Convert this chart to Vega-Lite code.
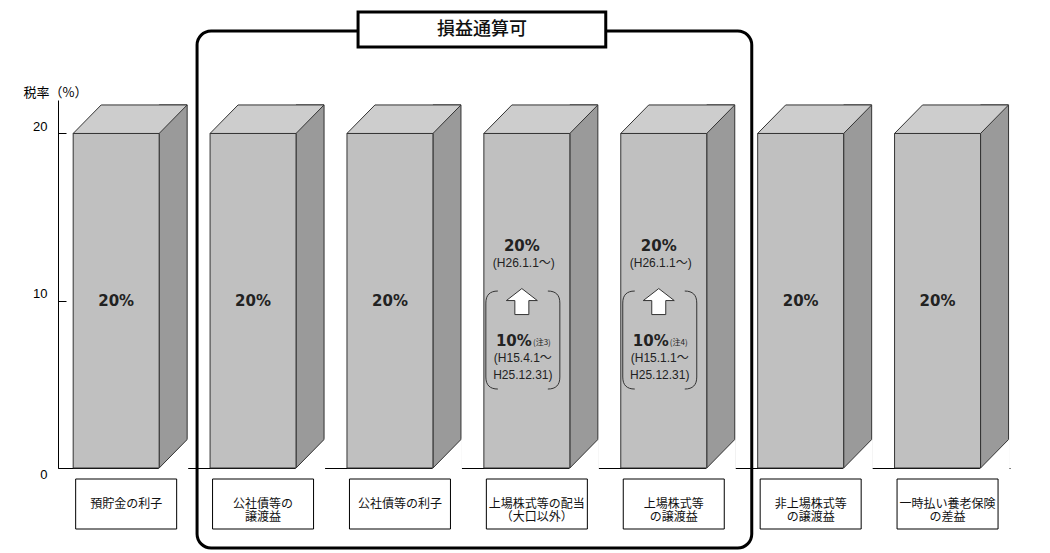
{
  "$schema": "https://vega.github.io/schema/vega-lite/v6.json",
  "width": 952,
  "height": 368,
  "autosize": {"type": "none"},
  "padding": {"left": 58, "top": 100, "right": 40, "bottom": 85},
  "background": "white",
  "config": {"view": {"stroke": null}, "font": "Liberation Sans"},
  "datasets": {
    "rates": [
      {"item": "預貯金の利子", "rate": 20, "label": "20%"},
      {"item": "公社債等の\n譲渡益", "rate": 20, "label": "20%"},
      {"item": "公社債等の利子", "rate": 20, "label": "20%"},
      {"item": "上場株式等の配当\n（大口以外）", "rate": 20, "label": "20%", "since": "(H26.1.1～)", "old": "10%", "note": "(注3)", "periodFrom": "(H15.4.1～", "periodTo": "H25.12.31)"},
      {"item": "上場株式等\nの譲渡益", "rate": 20, "label": "20%", "since": "(H26.1.1～)", "old": "10%", "note": "(注4)", "periodFrom": "(H15.1.1～", "periodTo": "H25.12.31)"},
      {"item": "非上場株式等\nの譲渡益", "rate": 20, "label": "20%"},
      {"item": "一時払い養老保険\nの差益", "rate": 20, "label": "20%"}
    ],
    "frame": [
      {"start": "公社債等の\n譲渡益", "end": "上場株式等\nの譲渡益", "title": "損益通算可"}
    ]
  },
  "data": {"name": "rates"},
  "encoding": {
    "x": {
      "field": "item",
      "type": "nominal",
      "title": null,
      "scale": {
        "domain": ["預貯金の利子", "公社債等の\n譲渡益", "公社債等の利子", "上場株式等の配当\n（大口以外）", "上場株式等\nの譲渡益", "非上場株式等\nの譲渡益", "一時払い養老保険\nの差益"],
        "paddingInner": 0.372,
        "paddingOuter": 0.163,
        "align": 0.34
      },
      "axis": {"labels": false, "ticks": false, "title": null, "domain": true, "domainColor": "#000000", "domainWidth": 1}
    }
  },
  "layer": [
    {
      "mark": {"type": "bar", "width": 28, "xOffset": 57, "yOffset": -28.5, "fill": "#9a9a9a", "stroke": "#333333", "strokeWidth": 1},
      "encoding": {"y": {"field": "rate", "type": "quantitative"}, "y2": {"datum": 0}}
    },
    {
      "mark": {"type": "point", "shape": "M 42 1.02 L 72 -29.5 L 72 1.5 Z", "size": 4, "filled": true, "fill": "white", "strokeWidth": 0, "opacity": 1},
      "encoding": {"y": {"datum": 0}}
    },
    {
      "mark": {"type": "point", "shape": "M 43 0 L 71 -28.5", "size": 4, "filled": false, "stroke": "#333333", "strokeWidth": 1, "opacity": 1},
      "encoding": {"y": {"datum": 0}}
    },
    {
      "mark": {"type": "bar", "fill": "#c0c0c0", "stroke": "#333333", "strokeWidth": 1},
      "encoding": {
        "y": {
          "field": "rate",
          "type": "quantitative",
          "scale": {"domain": [0, 22], "nice": false, "zero": true},
          "axis": {
            "values": [0, 10, 20],
            "grid": false,
            "domainColor": "#000000",
            "tickColor": "#000000",
            "tickSize": -8,
            "labelPadding": 19,
            "labelFont": "Liberation Sans",
            "labelFontSize": 13,
            "labelColor": "#000000",
            "labelBaseline": {"condition": {"test": "datum.value === 0", "value": "top"}, "value": "bottom"},
            "title": "税率（%）",
            "titleAngle": 0,
            "titleAlign": "left",
            "titleBaseline": "middle",
            "titleX": -35,
            "titleY": -8,
            "titleFont": "Noto Sans CJK JP",
            "titleFontSize": 13,
            "titleFontWeight": "normal",
            "titleColor": "#000000"
          }
        }
      }
    },
    {
      "mark": {"type": "point", "shape": "M -43 0 L -15 -28.5 L 71 -28.5 L 43 0 Z", "size": 4, "filled": true, "fill": "#cdcdcd", "stroke": "#333333", "strokeWidth": 1, "opacity": 1},
      "encoding": {"y": {"field": "rate", "type": "quantitative"}}
    },
    {
      "mark": {"type": "bar", "width": 101, "xOffset": 10, "yOffset": 11, "y2Offset": 61, "fill": "white", "stroke": "#000000", "strokeWidth": 1},
      "encoding": {"y": {"datum": 0}, "y2": {"datum": 0}}
    },
    {
      "mark": {"type": "text", "dx": 10, "dy": 36, "baseline": "middle", "align": "center", "lineBreak": "\n", "lineHeight": 13, "font": "Noto Sans CJK JP", "fontSize": 12, "color": "#111111"},
      "encoding": {"y": {"datum": 0}, "text": {"field": "item"}}
    },
    {
      "transform": [{"filter": "!isValid(datum.since)"}],
      "mark": {"type": "text", "baseline": "middle", "align": "center", "font": "DejaVu Sans", "fontWeight": "bold", "fontSize": 15, "color": "#222222"},
      "encoding": {"y": {"datum": 10}, "text": {"field": "label"}}
    },
    {
      "transform": [{"filter": "isValid(datum.since)"}],
      "mark": {"type": "text", "dx": -5, "baseline": "middle", "align": "center", "font": "DejaVu Sans", "fontWeight": "bold", "fontSize": 15, "color": "#222222"},
      "encoding": {"y": {"datum": 13.29}, "text": {"field": "label"}}
    },
    {
      "transform": [{"filter": "isValid(datum.since)"}],
      "mark": {"type": "text", "dx": -3, "baseline": "middle", "align": "center", "font": "Liberation Sans, Noto Sans CJK JP", "fontSize": 12, "color": "#222222"},
      "encoding": {"y": {"datum": 12.24}, "text": {"field": "since"}}
    },
    {
      "transform": [{"filter": "isValid(datum.since)"}],
      "mark": {"type": "point", "shape": "M -29 -49 C -37 -49 -41 -45 -41 -37 L -41 37 C -41 45 -37 49 -29 49 M 21 -49 C 29 -49 33 -45 33 -37 L 33 37 C 33 45 29 49 21 49", "size": 4, "filled": false, "stroke": "#333333", "strokeWidth": 1, "opacity": 1},
      "encoding": {"y": {"datum": 7.65}}
    },
    {
      "transform": [{"filter": "isValid(datum.since)"}],
      "mark": {"type": "point", "shape": "M -5 -13 L 10.5 -1 L 2 -1 L 2 13 L -12 13 L -12 -1 L -20.5 -1 Z", "size": 4, "filled": true, "fill": "white", "stroke": "#333333", "strokeWidth": 1, "opacity": 1},
      "encoding": {"y": {"datum": 9.95}}
    },
    {
      "transform": [{"filter": "isValid(datum.since)"}],
      "mark": {"type": "text", "dx": -13, "baseline": "middle", "align": "center", "font": "DejaVu Sans", "fontWeight": "bold", "fontSize": 15, "color": "#222222"},
      "encoding": {"y": {"datum": 7.6}, "text": {"field": "old"}}
    },
    {
      "transform": [{"filter": "isValid(datum.since)"}],
      "mark": {"type": "text", "dx": 15, "dy": 2, "baseline": "middle", "align": "center", "font": "Noto Sans CJK JP", "fontSize": 8, "color": "#222222"},
      "encoding": {"y": {"datum": 7.6}, "text": {"field": "note"}}
    },
    {
      "transform": [{"filter": "isValid(datum.since)"}],
      "mark": {"type": "text", "dx": -4, "baseline": "middle", "align": "center", "font": "Liberation Sans, Noto Sans CJK JP", "fontSize": 12, "color": "#222222"},
      "encoding": {"y": {"datum": 6.55}, "text": {"field": "periodFrom"}}
    },
    {
      "transform": [{"filter": "isValid(datum.since)"}],
      "mark": {"type": "text", "dx": -4, "baseline": "middle", "align": "center", "font": "Liberation Sans, Noto Sans CJK JP", "fontSize": 12, "color": "#222222"},
      "encoding": {"y": {"datum": 5.55}, "text": {"field": "periodTo"}}
    },
    {
      "data": {"name": "frame"},
      "mark": {"type": "bar", "xOffset": -56, "x2Offset": 88, "yOffset": -69, "y2Offset": 80, "cornerRadius": 14, "fill": "transparent", "stroke": "#000000", "strokeWidth": 3},
      "encoding": {
        "x": {"field": "start", "type": "nominal", "title": null},
        "x2": {"field": "end"},
        "y": {"datum": 22},
        "y2": {"datum": 0}
      }
    },
    {
      "data": {"name": "frame"},
      "mark": {"type": "bar", "xOffset": 105, "x2Offset": -58, "yOffset": -88, "y2Offset": -53, "fill": "white", "stroke": "#000000", "strokeWidth": 3},
      "encoding": {
        "x": {"field": "start", "type": "nominal", "title": null},
        "x2": {"field": "end"},
        "y": {"datum": 22},
        "y2": {"datum": 22}
      }
    },
    {
      "data": {"name": "frame"},
      "mark": {"type": "text", "dx": 229, "dy": -70, "baseline": "middle", "align": "center", "font": "Noto Sans CJK JP", "fontSize": 18, "fontWeight": 500, "color": "#111111"},
      "encoding": {
        "x": {"field": "start", "type": "nominal", "title": null},
        "y": {"datum": 22},
        "text": {"field": "title"}
      }
    }
  ]
}
